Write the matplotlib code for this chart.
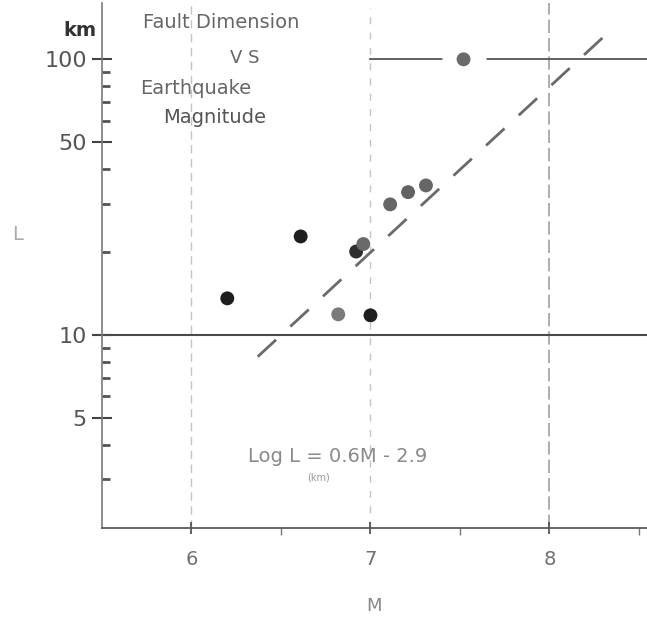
import numpy as np
import matplotlib.pyplot as plt

# data
magnitude = [6.2, 6.61, 6.82, 7.0, 6.92, 6.96, 7.11, 7.21, 7.31, 7.52]
length_km = [13.6, 22.8, 11.9, 11.8, 20.1, 21.4, 29.8, 33.0, 34.9, 100]
dot_colors = ["#1e1e1e", "#1e1e1e", "#7a7a7a", "#1e1e1e", "#2e2e2e",
              "#6a6a6a", "#666666", "#626262", "#666666", "#6a6a6a"]

# regression  Log L = 0.6 M - 2.9
slope, intercept = 0.6, -2.9
fit_m = [6.37, 8.36]

y_major = [5, 10, 50, 100]
y_major_labels = ["5", "10", "50", "100"]
y_minor = [3, 4, 6, 7, 8, 9, 20, 30, 40, 60, 70, 80, 90]
x_major = [6, 7, 8]
x_minor = [6.5, 7.5, 8.5]

W, H = 647, 617
fig = plt.figure(figsize=(W / 100, H / 100), dpi=100)
ax = fig.add_axes([102 / W, (H - 528) / H, 545 / W, 525 / H])

ax.set_yscale("log")
ax.set_xlim(5.5, 8.545)
ax.set_ylim(2, 160)

# reference lines
ax.axhline(10, color="#4a4a4a", lw=1.5, zorder=2)
ax.plot([7, 8.545], [100, 100], color="#555555", lw=1.3, zorder=2)
ax.axvline(6, color="#c4c4c4", lw=1, ls=(0, (6, 4)), zorder=1)
ax.axvline(7, ymin=0.0, ymax=0.99, color="#c4c4c4", lw=1, ls=(0, (5, 6)), zorder=1)
ax.axvline(8, color="#a0a0a0", lw=1.2, ls=(0, (8, 3)), zorder=1)

# fitted line
fit_l = [10 ** (slope * m + intercept) for m in fit_m]
ax.plot(fit_m, fit_l, color="#6a6a6a", lw=2, ls=(0, (9, 7)), zorder=3)

# points (white halo so the 100 km line breaks around the dot)
ax.scatter(magnitude[-1:], length_km[-1:], s=950, color="white", zorder=4)
ax.scatter(magnitude, length_km, s=100, c=dot_colors, zorder=5, linewidths=0)

# axes styling
for side in ["top", "right"]:
    ax.spines[side].set_visible(False)
ax.spines["left"].set_color("#7a7a7a")
ax.spines["left"].set_linewidth(1.2)
ax.spines["bottom"].set_color("#5a5a5a")
ax.spines["bottom"].set_linewidth(1.3)

ax.set_yticks(y_major)
ax.set_yticklabels(y_major_labels)
ax.set_yticks(y_minor, minor=True)
ax.yaxis.set_minor_formatter(plt.NullFormatter())
ax.tick_params(axis="y", which="major", direction="inout", length=14, width=1.5,
               color="#444444", labelsize=16, labelcolor="#555555", pad=4)
ax.tick_params(axis="y", which="minor", direction="in", length=6, width=2,
               color="#555555")

ax.set_xticks(x_major)
ax.set_xticks(x_minor, minor=True)
ax.set_xticklabels(["6", "7", "8"])
ax.tick_params(axis="x", which="major", direction="inout", length=8, width=1.3,
               color="#555555", labelsize=14, labelcolor="#707070", pad=12)
ax.tick_params(axis="x", which="minor", direction="out", length=5, width=1,
               color="#777777")

ax.set_xlabel("M", fontsize=13, color="#888888", labelpad=20)
ax.set_ylabel("L", fontsize=14, color="#aaaaaa", rotation=0)
ax.yaxis.set_label_coords(-0.155, 0.54)

# title block and labels in pixel positions
def ftext(x, y, s, **kw):
    fig.text(x / W, 1 - y / H, s, va="center", **kw)

ftext(80, 30, "km", ha="center", fontsize=14, color="#333333", fontweight="bold")
ftext(143, 22, "Fault Dimension", ha="left", fontsize=14, color="#666666")
ftext(245, 58, "V S", ha="center", fontsize=13, color="#666666")
ftext(140, 88, "Earthquake", ha="left", fontsize=14, color="#666666")
ftext(163, 118, "Magnitude", ha="left", fontsize=14, color="#555555")

ftext(248, 456, "Log L = 0.6M - 2.9", ha="left", fontsize=14, color="#8a8a8a")
ftext(318, 477, "(km)", ha="center", fontsize=7, color="#999999")

plt.savefig("out.png", dpi=100)
plt.close()
